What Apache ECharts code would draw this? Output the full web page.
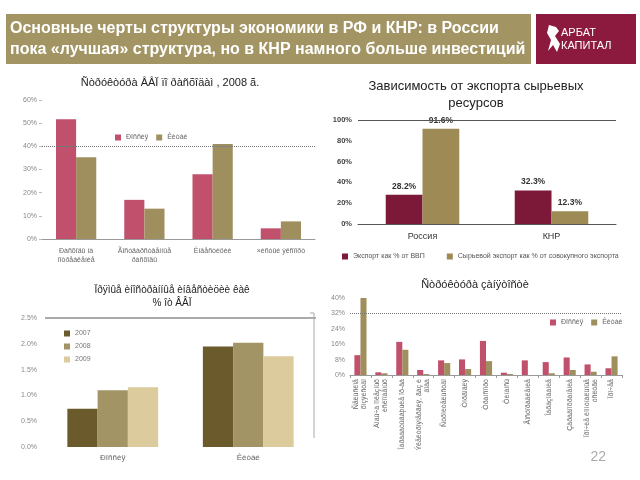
<!DOCTYPE html>
<html><head><meta charset="utf-8">
<script src="https://cdn.jsdelivr.net/npm/echarts@6/dist/echarts.min.js"></script>
<style>html,body{margin:0;padding:0;background:#fff}#c{width:640px;height:480px}</style>
</head><body><div id="c"></div><script>
// ---- data ----
const gdpCats = ['Ðàñõîäû íà\nïîòðåáëåíèå', 'Ãîñóäàðñòâåííûå\nðàñõîäû', 'Èíâåñòèöèè', '×èñòûé ýêñïîðò'];
const gdpRussia = [51.7, 16.9, 28.0, 4.6];
const gdpChina = [35.3, 13.1, 41.0, 7.6];

const exportCats = ['Россия', 'КНР'];
const exportToGdp = [28.2, 32.3];
const rawExportShare = [91.6, 12.3];

const fdiCats = ['Ðîññèÿ', 'Êèòàé'];
const fdi2007 = [0.74, 1.95];
const fdi2008 = [1.10, 2.02];
const fdi2009 = [1.16, 1.76];

const empCats = ['Ñåëüñêîå\nõîçÿéñòâî', 'Äîáû÷à ïîëåçíûõ\nèñêîïàåìûõ', 'Îáðàáàòûâàþùèå ïð-âà', 'Ýëåêòðîýíåðãèÿ, ãàç è\nâîäà', 'Ñòðîèòåëüñòâî', 'Òîðãîâëÿ', 'Òðàíñïîðò', 'Ôèíàíñû', 'Ãîñóïðàâëåíèå', 'Îáðàçîâàíèå', 'Çäðàâîîõðàíåíèå', 'Ïðî÷èå êîììóíàëüíûå\nóñëóãè', 'Ïðî÷åå'];
const empRussia = [10.3, 1.4, 17.2, 2.6, 7.6, 8.1, 17.7, 1.2, 7.6, 6.7, 9.1, 5.5, 3.5];
const empChina = [40.8, 0.9, 13.1, 0.5, 6.2, 3.1, 7.2, 0.5, 0, 0.9, 2.6, 1.7, 9.7];

const ruName = 'Ðîññèÿ', cnName = 'Êèòàé';
// ---- style ----
const FF = 'Liberation Sans, Arial, sans-serif';
const ROSE = '#c0506b', OLIVE = '#a08f5e';
const MAROON = '#7c1838', OLIVE2 = '#9d8a55';
const Y07 = '#6b5a2b', Y08 = '#a39466', Y09 = '#dccb9c';

const chart = echarts.init(document.getElementById('c'), null, {renderer: 'canvas'});
const pct0 = v => v + '%';
const gray = '#888';

const option = {
  animation: false,
  textStyle: {fontFamily: FF},
  grid: [
    {left: 42, right: 325, top: 100, bottom: 241},
    {left: 358, right: 24, top: 120, bottom: 256},
    {left: 45, right: 324, top: 318, bottom: 33},
    {left: 350, right: 18, top: 298, bottom: 105}
  ],
  xAxis: [
    {gridIndex: 0, type: 'category', data: gdpCats, axisLine: {lineStyle: {color: '#999'}}, axisTick: {show: false},
     axisLabel: {fontSize: 7, color: '#666', margin: 8, interval: 0, lineHeight: 9}},
    {gridIndex: 1, type: 'category', data: exportCats, axisLine: {lineStyle: {color: '#555'}}, axisTick: {show: false},
     axisLabel: {fontSize: 9, color: '#333', margin: 8}},
    {gridIndex: 2, type: 'category', data: fdiCats, axisLine: {show: false}, axisTick: {show: false},
     axisLabel: {fontSize: 8, color: '#666', margin: 7}},
    {gridIndex: 3, type: 'category', data: empCats, axisLine: {lineStyle: {color: '#999'}}, axisTick: {show: true, length: 3, lineStyle: {color: '#999'}},
     axisLabel: {fontSize: 7, color: '#666', margin: 4, rotate: 90, interval: 0, lineHeight: 8}}
  ],
  yAxis: [
    {gridIndex: 0, type: 'value', min: 0, max: 60, interval: 10, splitLine: {show: false}, axisLine: {show: false},
     axisTick: {show: true, length: 3, lineStyle: {color: '#bbb'}}, axisLabel: {fontSize: 7, color: gray, formatter: pct0, margin: 5}},
    {gridIndex: 1, type: 'value', min: 0, max: 100, interval: 20, splitLine: {show: false}, axisLine: {show: false},
     axisTick: {show: false}, axisLabel: {fontSize: 7.5, color: '#444', fontWeight: 'bold', formatter: pct0, margin: 6}},
    {gridIndex: 2, type: 'value', min: 0, max: 2.5, interval: 0.5, splitLine: {show: false}, axisLine: {show: false},
     axisTick: {show: false}, axisLabel: {fontSize: 7, color: gray, formatter: v => v.toFixed(1) + '%', margin: 8}},
    {gridIndex: 3, type: 'value', min: 0, max: 40, interval: 8, splitLine: {show: false}, axisLine: {show: false},
     axisTick: {show: false}, axisLabel: {fontSize: 7, color: gray, formatter: pct0, margin: 5}}
  ],
  legend: [
    {data: [ruName, cnName], left: 112, top: 132, icon: 'rect', itemWidth: 6, itemHeight: 6, itemGap: 8, padding: [2, 3],
     backgroundColor: '#fff', textStyle: {fontSize: 7, color: '#666', fontFamily: FF}},
    {data: ['Экспорт как % от ВВП', 'Сырьевой экспорт как % от совокупного экспорта'], left: 337, top: 248, icon: 'rect',
     itemWidth: 6, itemHeight: 6, itemGap: 22, textStyle: {fontSize: 7, color: '#555', fontFamily: FF}},
    {data: ['2007', '2008', '2009'], left: 59, top: 325, orient: 'vertical', icon: 'rect', itemWidth: 6, itemHeight: 6, itemGap: 6,
     textStyle: {fontSize: 7, color: '#777', fontFamily: FF}},
    {data: [ruName, cnName], left: 545, top: 314, icon: 'rect', itemWidth: 6, itemHeight: 6, itemGap: 8,
     textStyle: {fontSize: 7, color: '#666', fontFamily: FF}}
  ],
  series: [
    {name: ruName, type: 'bar', xAxisIndex: 0, yAxisIndex: 0, data: gdpRussia, itemStyle: {color: ROSE}, barGap: '0%', barCategoryGap: '41%'},
    {name: cnName, type: 'bar', xAxisIndex: 0, yAxisIndex: 0, data: gdpChina, itemStyle: {color: OLIVE}, barGap: '0%', barCategoryGap: '41%',
     markLine: {silent: true, symbol: 'none', label: {show: false}, lineStyle: {type: 'dotted', color: '#777', width: 1}, data: [{yAxis: 40}]}},

    {name: 'Экспорт как % от ВВП', type: 'bar', xAxisIndex: 1, yAxisIndex: 1, data: exportToGdp, itemStyle: {color: MAROON},
     barGap: '0%', barCategoryGap: '43%',
     label: {show: true, position: 'top', fontSize: 8.5, fontWeight: 'bold', color: '#333', formatter: p => p.value.toFixed(1) + '%', distance: 4},
     markLine: {silent: true, symbol: 'none', label: {show: false}, lineStyle: {type: 'solid', color: '#555', width: 1}, data: [{yAxis: 100}]}},
    {name: 'Сырьевой экспорт как % от совокупного экспорта', type: 'bar', xAxisIndex: 1, yAxisIndex: 1, data: rawExportShare, itemStyle: {color: OLIVE2},
     barGap: '0%', barCategoryGap: '43%',
     label: {show: true, position: 'top', fontSize: 8.5, fontWeight: 'bold', color: '#333', formatter: p => p.value.toFixed(1) + '%', distance: 4}},

    {name: '2007', type: 'bar', xAxisIndex: 2, yAxisIndex: 2, data: fdi2007, itemStyle: {color: Y07}, barGap: '0%', barCategoryGap: '33%',
     markLine: {silent: true, symbol: 'none', label: {show: false}, lineStyle: {type: 'solid', color: '#aaa', width: 2}, data: [{yAxis: 2.5}]}},
    {name: '2008', type: 'bar', xAxisIndex: 2, yAxisIndex: 2, data: fdi2008, itemStyle: {color: Y08}, barGap: '0%', barCategoryGap: '33%'},
    {name: '2009', type: 'bar', xAxisIndex: 2, yAxisIndex: 2, data: fdi2009, itemStyle: {color: Y09}, barGap: '0%', barCategoryGap: '33%'},

    {name: ruName, type: 'bar', xAxisIndex: 3, yAxisIndex: 3, data: empRussia, itemStyle: {color: ROSE}, barGap: '0%', barCategoryGap: '42%'},
    {name: cnName, type: 'bar', xAxisIndex: 3, yAxisIndex: 3, data: empChina, itemStyle: {color: OLIVE}, barGap: '0%', barCategoryGap: '42%',
     markLine: {silent: true, symbol: 'none', label: {show: false}, lineStyle: {type: 'dotted', color: '#777', width: 1}, data: [{yAxis: 32}]}}
  ],
  graphic: [
    {type: 'rect', shape: {x: 6, y: 14, width: 525, height: 50}, style: {fill: '#a39563'}, z: 0},
    {type: 'text', x: 10, y: 29, style: {text: 'Основные черты структуры экономики в РФ и КНР: в России', fill: '#fff', font: 'bold 16px ' + FF, textVerticalAlign: 'middle'}},
    {type: 'text', x: 10, y: 50, style: {text: 'пока «лучшая» структура, но в КНР намного больше инвестиций', fill: '#fff', font: 'bold 16px ' + FF, textVerticalAlign: 'middle'}},
    {type: 'rect', shape: {x: 536, y: 14, width: 100, height: 50}, style: {fill: '#8c1a3e'}},
    {type: 'polygon', shape: {points: [[549, 25], [556, 27], [559, 31], [555, 36], [560, 44], [557, 52], [553, 45], [548, 51], [551, 40], [547, 33]]}, style: {fill: '#fff'}},
    {type: 'text', x: 561, y: 33, style: {text: 'АРБАТ', fill: '#fff', font: '11px ' + FF, textVerticalAlign: 'middle'}},
    {type: 'text', x: 561, y: 46, style: {text: 'КАПИТАЛ', fill: '#fff', font: '11px ' + FF, textVerticalAlign: 'middle'}},

    {type: 'text', x: 170, y: 83, style: {text: 'Ñòðóêòóðà ÂÂÏ ïî ðàñõîäàì , 2008 ã.', fill: '#222', font: '11px ' + FF, textAlign: 'center', textVerticalAlign: 'middle'}},
    {type: 'text', x: 476, y: 86, style: {text: 'Зависимость от экспорта сырьевых', fill: '#222', font: '13px ' + FF, textAlign: 'center', textVerticalAlign: 'middle'}},
    {type: 'text', x: 476, y: 103, style: {text: 'ресурсов', fill: '#222', font: '13px ' + FF, textAlign: 'center', textVerticalAlign: 'middle'}},
    {type: 'text', x: 172, y: 290, style: {text: 'Ïðÿìûå èíîñòðàííûå èíâåñòèöèè êàê', fill: '#222', font: '10px ' + FF, textAlign: 'center', textVerticalAlign: 'middle'}},
    {type: 'text', x: 172, y: 303, style: {text: '% îò ÂÂÏ', fill: '#222', font: '10px ' + FF, textAlign: 'center', textVerticalAlign: 'middle'}},
    {type: 'text', x: 475, y: 285, style: {text: 'Ñòðóêòóðà çàíÿòîñòè', fill: '#222', font: '11px ' + FF, textAlign: 'center', textVerticalAlign: 'middle'}},

    {type: 'line', shape: {x1: 314, y1: 313, x2: 314, y2: 438}, style: {stroke: '#aaa', lineWidth: 1}},
    {type: 'line', shape: {x1: 310, y1: 313, x2: 314, y2: 313}, style: {stroke: '#aaa', lineWidth: 1}},
    {type: 'text', x: 606, y: 457, style: {text: '22', fill: '#aaa', font: '14px ' + FF, textAlign: 'right', textVerticalAlign: 'middle'}}
  ]
};
chart.setOption(option);
</script></body></html>
